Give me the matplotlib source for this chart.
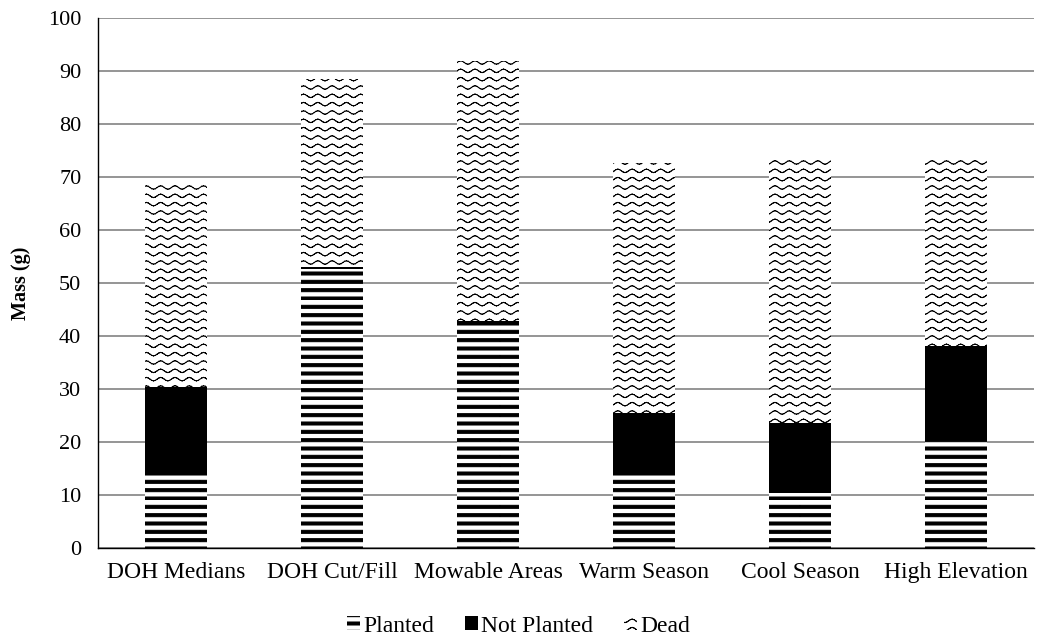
import numpy as np
import matplotlib
matplotlib.use("Agg")
import matplotlib.pyplot as plt
import matplotlib.hatch as mhatch
from matplotlib.path import Path

# ---------------- data ----------------
categories = ["DOH Medians", "DOH Cut/Fill", "Mowable Areas", "Warm Season", "Cool Season", "High Elevation"]
planted = [14.4, 52.6, 42.0, 13.8, 10.4, 20.5]
not_planted_top = [30.4, 53.1, 42.9, 25.5, 23.5, 38.2]
total_top = [68.7, 88.4, 91.8, 72.6, 73.7, 73.3]
not_planted = [b - a for a, b in zip(planted, not_planted_top)]
dead = [c - b for b, c in zip(not_planted_top, total_top)]
series_names = ["Planted", "Not Planted", "Dead"]
yticks = list(range(0, 101, 10))

# ---------------- custom hatch patterns ----------------
class StripeHatch(mhatch.HatchPatternBase):
    def __init__(self, hatch, density):
        self.num_lines = 12 if hatch.count('-') else 0
        self.num_vertices = self.num_lines * 5

    def set_vertices_and_codes(self, vertices, codes):
        h = 0.03
        k = 0
        for i in range(self.num_lines):
            y0 = i / self.num_lines
            pts = [(0, y0), (1, y0), (1, y0 + h), (0, y0 + h), (0, y0)]
            for j, p in enumerate(pts):
                vertices[k] = p
                codes[k] = Path.MOVETO if j == 0 else (Path.CLOSEPOLY if j == 4 else Path.LINETO)
                k += 1


class WaveHatch(mhatch.HatchPatternBase):
    def __init__(self, hatch, density):
        self.rows = 12 if hatch.count('o') else 0
        self.periods = 7
        self.seg = 8
        self.nseg = self.periods * self.seg
        self.num_vertices = self.rows * self.nseg * 2

    def set_vertices_and_codes(self, vertices, codes):
        x = np.linspace(0, 1, self.nseg + 1)
        k = 0
        for r in range(self.rows):
            y = (r + 0.5) / self.rows + 0.017 * np.sin(2 * np.pi * self.periods * x)
            for i in range(self.nseg):
                vertices[k] = (x[i], y[i])
                codes[k] = Path.MOVETO
                vertices[k + 1] = (x[i + 1], y[i + 1])
                codes[k + 1] = Path.LINETO
                k += 2


mhatch._hatch_types[:] = [StripeHatch, WaveHatch]

plt.rcParams['font.family'] = ['Liberation Serif', 'DejaVu Serif']
plt.rcParams['hatch.linewidth'] = 0.75
plt.rcParams['hatch.color'] = 'black'

fig = plt.figure(figsize=(10.37, 6.41), dpi=100)
ax = fig.add_axes([98 / 1037, 1 - 548 / 641, (1034 - 98) / 1037, (548 - 18) / 641])

x = np.arange(len(categories))
w = 0.4
ax.bar(x, planted, w, color='white', edgecolor='black', linewidth=0, hatch='-', label=series_names[0], zorder=3)
ax.bar(x, not_planted, w, bottom=planted, color='black', edgecolor='black', linewidth=0, label=series_names[1], zorder=3)
ax.bar(x, dead, w, bottom=not_planted_top, color='white', edgecolor='black', linewidth=0, hatch='o', label=series_names[2], zorder=3)

ax.set_xlim(-0.5, len(categories) - 0.5)
ax.set_ylim(0, 100)
ax.set_yticks(yticks)
ax.set_xticks(x)
ax.set_xticklabels(categories)
ax.yaxis.grid(True, color='#8c8c8c', linewidth=1.3, zorder=0)
ax.set_axisbelow(True)
for s in ['top', 'right']:
    ax.spines[s].set_visible(False)
ax.spines['left'].set_color('black')
ax.spines['bottom'].set_color('black')
ax.spines['left'].set_linewidth(1.0)
ax.spines['bottom'].set_linewidth(1.0)
ax.tick_params(axis='x', length=0, labelsize=17, pad=10)
ax.tick_params(axis='y', length=0, labelsize=16, pad=12)
ax.set_ylabel("Mass (g)", fontsize=14.5, fontweight='bold', labelpad=12)

leg = fig.legend(loc='center', bbox_to_anchor=(0.5, 1 - 626 / 641), ncol=3, frameon=False,
                 fontsize=17, handlelength=0.55, handleheight=0.55, handletextpad=0.15, columnspacing=1.3)

fig.savefig("out.png", dpi=100)
